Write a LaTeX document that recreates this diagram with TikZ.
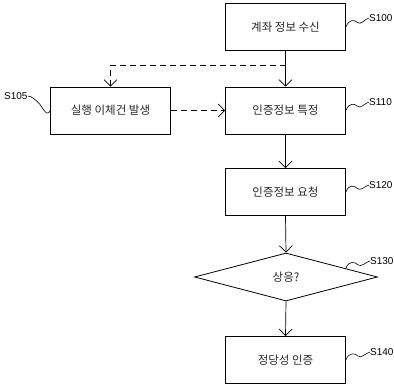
\documentclass[tikz,border=0pt]{standalone}
\usepackage{fontspec}
\newfontfamily\kr{Noto Sans CJK KR}
\newfontfamily\lab{Liberation Sans}
\usetikzlibrary{arrows.meta,shapes.geometric,calc}
\tikzset{
  stepbox/.style={draw, line width=0.8pt, minimum width=120pt, minimum height=47pt, inner sep=0pt, font=\kr\fontsize{11.5}{13}\selectfont, text=black!85},
  decbox/.style={draw, diamond, line width=0.8pt, minimum width=183pt, minimum height=48pt, inner sep=0pt, font=\kr\fontsize{11.5}{13}\selectfont, text=black!85},
  flow/.style={line width=0.7pt, -{Straight Barb[length=6.5pt,width=13pt,line width=0.7pt]}},
  dflow/.style={flow, dash pattern=on 6pt off 4pt},
  steplabel/.style={anchor=west, inner sep=0pt, font=\lab\fontsize{10}{12}\selectfont},
  squigline/.style={line width=0.6pt}
}
\newcommand{\squig}[2]{\draw[squigline] (#1) .. controls +(3,-8) and +(-3,-3) .. ($(#1)!0.5!(#2)$) .. controls +(3,3) and +(-4,1) .. (#2);}
\begin{document}
\begin{tikzpicture}[x=1pt,y=-1pt]
\useasboundingbox (0,0) rectangle (394,387);
\node[stepbox] (s100) at (285.5,27) {계좌 정보 수신};
\node[stepbox] (s110) at (285.5,110.5) {인증정보 특정};
\node[stepbox] (s105) at (110.5,110.5) {실행 이체건 발생};
\node[stepbox] (s120) at (285.5,192) {인증정보 요청};
\node[decbox] (s130) at (286,277) {상응?};
\node[stepbox] (s140) at (285.5,360) {정당성 인증};

\coordinate (split) at (285.5,65);
\draw[flow] (s100.south) -- (s110.north);
\draw[dflow] (split) -| (s105.north);
\draw[dflow] (s105.east) -- (s110.west);
\draw[flow] (s110.south) -- (s120.north);
\draw[flow] (s120.south) -- (s130.north);
\draw[flow] (s130.south) -- (s140.north);

\node[steplabel] (l100) at (369,18) {S100};
\node[steplabel] (l110) at (369,102) {S110};
\node[steplabel] (l105) at (4,96) {S105};
\node[steplabel] (l120) at (369,185) {S120};
\node[steplabel] (l130) at (370,261) {S130};
\node[steplabel] (l140) at (370,352) {S140};

\coordinate (e130) at ($(s130.north)!0.65!(s130.east)$);
\squig{s100.east}{l100.west}
\squig{s110.east}{l110.west}
\squig{s120.east}{l120.west}
\squig{e130}{l130.west}
\squig{s140.east}{l140.west}
\draw[squigline] (l105.east) .. controls +(4,0) and +(-3,-3) .. ($(l105.east)!0.5!(s105.west)$) .. controls +(3,3) and +(-3,8) .. (s105.west);
\end{tikzpicture}
\end{document}
